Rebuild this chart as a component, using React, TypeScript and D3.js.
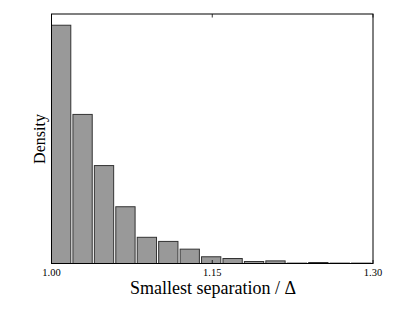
import React from "react";
import * as d3 from "d3";

const binStarts = [1.0, 1.02, 1.04, 1.06, 1.08, 1.1, 1.12, 1.14, 1.16, 1.18, 1.2, 1.22, 1.24, 1.26, 1.28];
const densities = [19.1, 11.95, 7.85, 4.55, 2.1, 1.77, 1.15, 0.54, 0.4, 0.16, 0.21, 0.03, 0.08, 0.03, 0.03];
const tickValues = [1.0, 1.15, 1.3];
const tickLabels = ["1.00", "1.15", "1.30"];

const W = 415, H = 312;
const M = { left: 51.5, right: 373, top: 14, bottom: 263.5 };
const binWidth = 0.02;
const rwidth = 0.9;

export default function App() {
  const x = d3.scaleLinear().domain([1.0, 1.3]).range([M.left, M.right]);
  const y = d3.scaleLinear().domain([0, 20]).range([M.bottom, M.top]);
  const font = "'Liberation Serif', 'DejaVu Serif', serif";
  return (
    <svg width={W} height={H} style={{ position: "absolute", left: 0, top: 0, background: "#fff" }}>
      {binStarts.map((b, i) => (
        <rect
          key={i}
          x={x(b)}
          y={y(densities[i])}
          width={x(b + binWidth * rwidth) - x(b)}
          height={y(0) - y(densities[i])}
          fill="#999999"
          stroke="#333333"
          strokeWidth={1}
        />
      ))}
      <rect x={M.left} y={M.top} width={M.right - M.left} height={M.bottom - M.top} fill="none" stroke="#000" strokeWidth={1} />
      {tickValues.map((t, i) => (
        <g key={i}>
          <line x1={x(t)} x2={x(t)} y1={M.bottom} y2={M.bottom - 3.5} stroke="#000" strokeWidth={0.8} />
          <line x1={x(t)} x2={x(t)} y1={M.top} y2={M.top + 3.5} stroke="#000" strokeWidth={0.8} />
          <text x={x(t)} y={276} textAnchor="middle" fontFamily={font} fontSize={10.5} fill="#000">
            {tickLabels[i]}
          </text>
        </g>
      ))}
      <text x={213} y={294} textAnchor="middle" fontFamily={font} fontSize={18} fill="#000">
        Smallest separation / Δ
      </text>
      <text
        transform={`translate(45, 139) rotate(-90)`}
        textAnchor="middle"
        fontFamily={font}
        fontSize={16}
        fill="#000"
      >
        Density
      </text>
    </svg>
  );
}
